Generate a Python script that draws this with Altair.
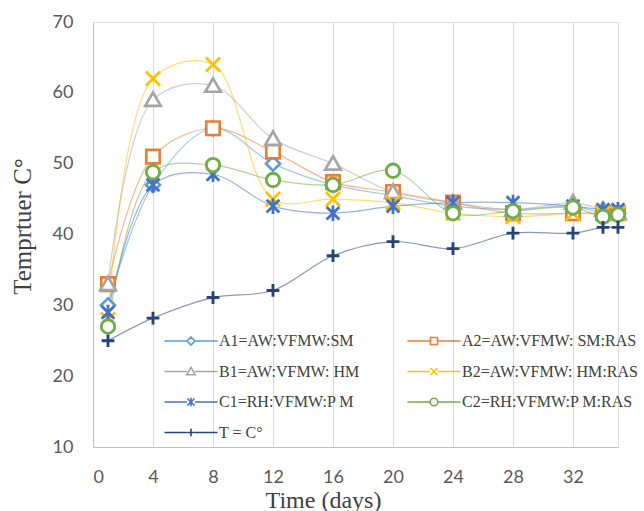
import altair as alt
import pandas as pd

days = [1, 4, 8, 12, 16, 20, 24, 28, 32, 34, 35]
series_names = ["A1=AW:VFMW:SM", "A2=AW:VFMW: SM:RAS", "B1=AW:VFMW: HM",
                "B2=AW:VFMW: HM:RAS", "C1=RH:VFMW:P M", "C2=RH:VFMW:P M:RAS", "T = C°"]
a1 = [30, 47, 55, 50, 47, 45.5, 44, 43.5, 44, 43, 43]
a2 = [33, 51, 55, 51.7, 47.4, 46, 44.5, 43, 43, 43, 43]
b1 = [33, 59, 61, 53.5, 50, 46, 44.5, 43.5, 44.5, 43.5, 43]
b2 = [28, 62, 64, 45, 45, 44.5, 43, 42.5, 43, 43, 43]
c1 = [29, 47, 48.5, 44, 43, 44, 44.5, 44.5, 44, 43.5, 43.5]
c2 = [27, 48.8, 49.8, 47.7, 47, 49, 43, 43.3, 43.8, 42.5, 42.8]
t = [25, 28.2, 31.1, 32.1, 37, 39, 38, 40.2, 40.2, 41, 41]
colors = ["#5B9BD5", "#ED7D31", "#A5A5A5", "#FFC000", "#4472C4", "#70AD47", "#264478"]

x_ticks = [0, 4, 8, 12, 16, 20, 24, 28, 32]
y_ticks = [10, 20, 30, 40, 50, 60, 70]

rows = []
for i, (name, vals) in enumerate(zip(series_names, [a1, a2, b1, b2, c1, c2, t])):
    for d, v in zip(days, vals):
        rows.append({"series": name, "day": d, "value": v, "order": i})
df = pd.DataFrame(rows)

marker_paths = [
    "M0,-1L1,0L0,1L-1,0Z",                      # diamond
    "M-0.95,-0.95H0.95V0.95H-0.95Z",            # square
    "M0,-1.05L1.1,0.85L-1.1,0.85Z",             # triangle
    "M-1,-1L1,1M-1,1L1,-1",                     # x
    "M-0.9,-0.9L0.9,0.9M-0.9,0.9L0.9,-0.9M0,-1.1V1.1",  # star
    "M0.95,0A0.95,0.95,0,1,1,-0.95,0A0.95,0.95,0,1,1,0.95,0Z",  # circle
    "M-0.9,0H0.9M0,-0.9V0.9",                   # plus
]
stroke_widths = [2.6, 2.9, 2.9, 3.6, 3.4, 3.1, 3.8]
stub = "M-5.6,0H-0.85M0.85,0H5.6"
legend_marker_paths = [
    "M0,-0.85L0.85,0L0,0.85L-0.85,0Z",
    "M-0.75,-0.75H0.75V0.75H-0.75Z",
    "M0,-0.85L0.9,0.7L-0.9,0.7Z",
    "M-0.75,-0.75L0.75,0.75M-0.75,0.75L0.75,-0.75",
    "M-0.75,-0.75L0.75,0.75M-0.75,0.75L0.75,-0.75M0,-0.9V0.9",
    "M0.8,0A0.8,0.8,0,1,1,-0.8,0A0.8,0.8,0,1,1,0.8,0Z",
    "M-0.8,0H0.8M0,-0.8V0.8",
]
legend_paths = [stub + p for p in legend_marker_paths]

# legend is filled column by column
legend_order = [0, 2, 4, 6, 1, 3, 5]
legend_domain = [series_names[i] for i in legend_order]
legend_colors = [colors[i] for i in legend_order]
legend_shapes = [legend_paths[i] for i in legend_order]

x_enc = alt.X("day:Q", scale=alt.Scale(domain=[0, 35], nice=False, zero=False),
              axis=alt.Axis(values=x_ticks, grid=True, gridColor="#d9d9d9", ticks=False,
                            domainColor="#bfbfbf", labelFont="Lato", labelFontSize=18,
                            labelColor="#595959", labelPadding=21, title="Time (days)",
                            titleFont="Liberation Serif", titleFontSize=24,
                            titleFontWeight="normal", titleColor="#404040",
                            titleX=230, titleY=60, titleAlign="center",
                            titleBaseline="alphabetic"))
y_enc = alt.Y("value:Q", scale=alt.Scale(domain=[10, 70], nice=False, zero=False),
              axis=alt.Axis(values=y_ticks, grid=False, ticks=False, domainColor="#bfbfbf",
                            labelFont="Lato", labelFontSize=18, labelColor="#595959",
                            labelPadding=20, title="Temprtuer C°",
                            titleFont="Liberation Serif", titleFontSize=25,
                            titleFontWeight="normal", titleColor="#404040",
                            titleX=-63, titleY=204, titleAngle=270, titleAlign="center",
                            titleBaseline="alphabetic"))

lines = alt.Chart(df).mark_line(interpolate="catmull-rom", strokeWidth=1.2, opacity=0.55).encode(
    x=x_enc, y=y_enc,
    color=alt.Color("series:N", scale=alt.Scale(domain=series_names, range=colors), legend=None),
)

points = alt.Chart(df).mark_point(filled=False, fill="white", size=200, opacity=1).encode(
    x=x_enc, y=y_enc,
    color=alt.Color("series:N", scale=alt.Scale(domain=series_names, range=colors), legend=None),
    shape=alt.Shape("series:N", scale=alt.Scale(domain=series_names, range=marker_paths),
                    legend=None),
    strokeWidth=alt.StrokeWidth("series:N",
                                scale=alt.Scale(domain=series_names, range=stroke_widths),
                                legend=None),
    order=alt.Order("order:Q"),
)

leg = alt.Legend(orient="none", legendX=90, legendY=311, columns=2, title=None,
                 labelFont="Liberation Serif", labelFontSize=16, labelColor="#404040",
                 symbolSize=90, symbolStrokeWidth=1.6, labelOffset=20,
                 columnPadding=44, rowPadding=14.5, labelLimit=300)

legend_layer = alt.Chart(df).transform_filter("datum.day < 0").mark_point(
    filled=False, opacity=1, strokeWidth=1.6).encode(
    x=x_enc, y=y_enc,
    color=alt.Color("series:N", scale=alt.Scale(domain=legend_domain, range=legend_colors),
                    legend=leg),
    shape=alt.Shape("series:N", scale=alt.Scale(domain=legend_domain, range=legend_shapes),
                    legend=leg),
)

chart = alt.layer(lines, points, legend_layer).resolve_scale(
    color="independent", shape="independent", strokeWidth="independent"
).properties(
    width=525, height=425,
    autosize=alt.AutoSizeParams(type="none"),
    padding={"left": 93, "top": 22, "right": 26, "bottom": 64},
).configure_view(stroke=None).configure(background="white")

chart.save("out.html", embed_options={"renderer": "svg", "actions": False})
